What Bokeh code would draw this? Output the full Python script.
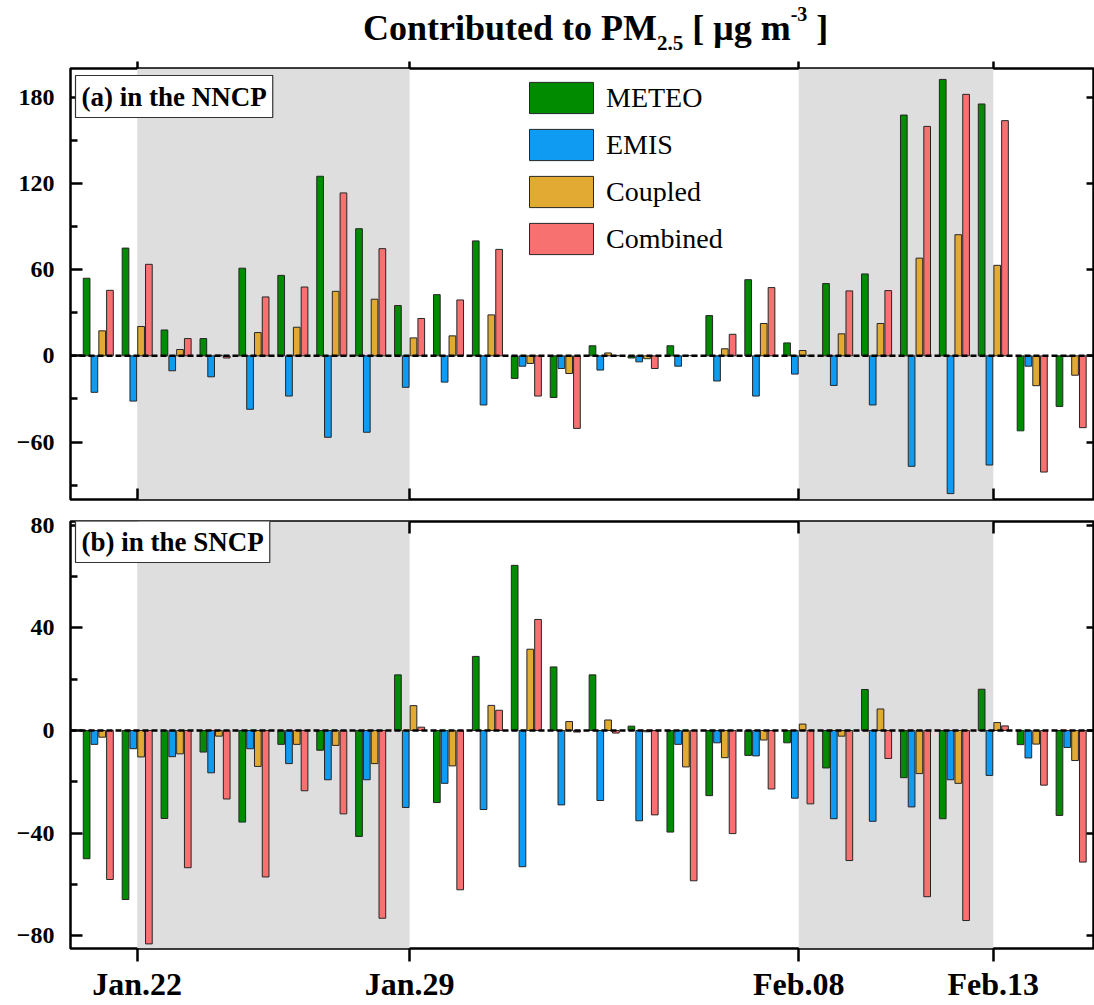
from bokeh.plotting import figure
from bokeh.models import (Range1d, FixedTicker, LinearAxis, BoxAnnotation, Span,
                          Legend, LegendItem, Label, ColumnDataSource, Div)
from bokeh.layouts import column
from bokeh.transform import dodge
from bokeh.embed import file_html
from bokeh.resources import INLINE

# ---------------- data ----------------
# day index 0 = Jan.21 ... 25 = Feb.15
days = list(range(26))
tick_positions = [1, 8, 18, 23]
tick_labels = ["Jan.22", "Jan.29", "Feb.08", "Feb.13"]
shaded_periods = [(1, 8), (18, 23)]
series_names = ["METEO", "EMIS", "Coupled", "Combined"]

nncp_meteo = [54, 75, 18, 12, 61, 56, 125, 88.5, 35, 42.6, 80, -15.7, -29, 7, -1.5, 7,
              28, 53, 9, 50.3, 57, 167.6, 192.4, 175.3, -52.2, -35.2]
nncp_emis = [-25.4, -31.5, -10.4, -14.6, -37.2, -28, -56.7, -53.2, -21.9, -18.3, -34.2, -7.2,
             -8.8, -9.9, -4.2, -7.2, -17.5, -28, -12.7, -20.6, -34.2, -76.9, -95.9, -76, -7.2, -0.5]
nncp_coupled = [17.4, 20.4, 4.4, 0.5, 16.2, 19.9, 44.9, 39.4, 12.5, 13.9, 28.5, -5.3, -12.3, 2,
                -2, 0.3, 4.9, 22.5, 3.7, 15.3, 22.5, 68, 84.3, 63, -20.8, -13.5]
nncp_combined = [45.6, 63.7, 12, -1.5, 41, 47.9, 113.4, 74.6, 26, 38.9, 74.1, -28, -50.5, 0.3,
                 -8.8, 0.3, 15, 47.5, 0.3, 45.2, 45.4, 159.7, 182, 163.7, -80.9, -50]

sncp_meteo = [-50, -65.9, -34.3, -8.4, -35.7, -5.4, -7.7, -41.3, 21.7, -28.1, 28.9, 64.4, 24.8,
              21.7, 1.7, -39.6, -25.4, -9.7, -4.8, -14.6, 16, -18.4, -34.4, 16.1, -5.5, -33.1]
sncp_emis = [-5.4, -7.1, -10.2, -16.5, -7.1, -12.9, -19.2, -19.2, -30, -20.6, -30.8, -53.1, -29,
             -27.3, -35.2, -5.4, -4.8, -9.9, -26.4, -34.4, -35.4, -29.8, -19.2, -17.5, -10.7, -6.6]
sncp_coupled = [-2.6, -10.3, -9.1, -2.2, -14, -5.4, -5.8, -12.9, 9.7, -13.8, 9.8, 31.7, 3.5, 4.1,
                -0.5, -14.2, -10.6, -3.7, 2.5, -2.2, 8.4, -16.8, -20.6, 3.1, -5.3, -11.7]
sncp_combined = [-58.1, -83.2, -53.5, -26.7, -57.1, -23.5, -32.5, -73.2, 1.3, -62.1, 7.9, 43.3,
                 -0.6, -1, -32.9, -58.6, -40.2, -22.8, -28.6, -50.7, -10.9, -64.8, -74.1, 1.8,
                 -21.3, -51.3]

# ---------------- style ----------------
FONT = "Liberation Serif"
colors = ["#008B00", "#0F9BF2", "#E2AA33", "#F87171"]
offsets = [-0.3, -0.1, 0.1, 0.3]
BAR_W = 0.172
X_RANGE = (-0.714, 25.6)
WIDTH = 1094


def hide_labels(axis):
    axis.major_label_text_font_size = "0px"
    axis.major_label_standoff = 0


def make_panel(values, y_range, majors, minors, height, border_top, border_bottom,
               bottom_labels, top_tick_out, top_tick_in, bottom_tick_in, bottom_tick_out):
    p = figure(width=WIDTH, height=height, x_range=Range1d(*X_RANGE), y_range=Range1d(*y_range),
               output_backend="svg", toolbar_location=None,
               min_border_left=70, min_border_right=0,
               min_border_top=border_top, min_border_bottom=border_bottom)
    p.background_fill_color = "white"
    p.border_fill_color = "white"
    p.outline_line_color = "black"
    p.outline_line_width = 2.5
    p.xgrid.visible = False
    p.ygrid.visible = False

    for a, b in shaded_periods:
        p.add_layout(BoxAnnotation(left=a, right=b, fill_color="#DEDEDE", fill_alpha=1.0,
                                   line_color=None, level="underlay"))

    src = ColumnDataSource(dict(day=days, **{n: v for n, v in zip(series_names, values)}))
    renderers = []
    for n, c, off in zip(series_names, colors, offsets):
        r = p.vbar(x=dodge("day", off, range=p.x_range), top=n, bottom=0, width=BAR_W,
                   source=src, fill_color=c, line_color="#262626", line_width=1)
        renderers.append(r)

    p.add_layout(Span(location=0, dimension="width", line_color="black",
                      line_width=2.5, line_dash="6 3"))

    # bottom x axis
    xa = p.xaxis[0]
    xa.ticker = FixedTicker(ticks=tick_positions)
    xa.major_label_overrides = {t: l for t, l in zip(tick_positions, tick_labels)}
    xa.axis_line_color = None
    xa.major_tick_line_width = 2.5
    xa.major_tick_in = bottom_tick_in
    xa.major_tick_out = bottom_tick_out
    xa.minor_tick_line_color = None
    if bottom_labels:
        xa.major_label_text_font = FONT
        xa.major_label_text_font_style = "bold"
        xa.major_label_text_font_size = "32px"
        xa.major_label_text_color = "black"
        xa.major_label_standoff = 4
    else:
        hide_labels(xa)

    # top x axis
    ta = LinearAxis(ticker=FixedTicker(ticks=tick_positions), axis_line_color=None,
                    major_tick_in=top_tick_in, major_tick_out=top_tick_out,
                    major_tick_line_width=2.5, minor_tick_line_color=None)
    hide_labels(ta)
    p.add_layout(ta, "above")

    # left y axis
    ya = p.yaxis[0]
    ya.ticker = FixedTicker(ticks=majors, minor_ticks=minors)
    ya.axis_line_color = None
    ya.major_tick_in = 12
    ya.major_tick_out = 0
    ya.minor_tick_in = 7
    ya.minor_tick_out = 0
    ya.major_tick_line_width = 2.5
    ya.minor_tick_line_width = 2.5
    ya.major_label_text_font = FONT
    ya.major_label_text_font_style = "bold"
    ya.major_label_text_font_size = "24px"
    ya.major_label_text_color = "black"
    ya.major_label_standoff = 16

    # right y axis
    ra = LinearAxis(ticker=FixedTicker(ticks=majors), axis_line_color=None,
                    major_tick_in=8, major_tick_out=0, major_tick_line_width=2.5,
                    minor_tick_line_color=None)
    hide_labels(ra)
    p.add_layout(ra, "right")
    return p, renderers


p1, rend1 = make_panel([nncp_meteo, nncp_emis, nncp_coupled, nncp_combined], (-100, 200),
                       [-60, 0, 60, 120, 180], [-90, -30, 30, 90, 150],
                       height=453, border_top=12, border_bottom=10, bottom_labels=False,
                       top_tick_out=7, top_tick_in=0, bottom_tick_in=11, bottom_tick_out=0)
p2, rend2 = make_panel([sncp_meteo, sncp_emis, sncp_coupled, sncp_combined], (-85, 81.5),
                       [-80, -40, 0, 40, 80], [-60, -20, 20, 60],
                       height=495, border_top=12, border_bottom=53, bottom_labels=True,
                       top_tick_out=0, top_tick_in=12, bottom_tick_in=0, bottom_tick_out=13)

legend = Legend(items=[LegendItem(label=n, renderers=[r]) for n, r in zip(series_names, rend1)],
                location=(451, 241), orientation="vertical",
                glyph_width=80, glyph_height=39, spacing=8, padding=0, margin=0,
                label_standoff=5, label_text_font=FONT, label_text_font_size="28px",
                label_text_color="black", border_line_color=None, background_fill_alpha=0)
p1.add_layout(legend, "center")

for p, txt, ytop in [(p1, "(a) in the NNCP", 424), (p2, "(b) in the SNCP", 428)]:
    p.add_layout(Label(x=5, y=ytop, x_units="screen", y_units="screen", text=txt,
                       text_font=FONT, text_font_style="bold", text_font_size="27px",
                       text_color="black", text_align="left", text_baseline="top",
                       anchor="top_left", padding=6,
                       background_fill_color="white", border_line_color="#333333",
                       border_line_width=1.2))

title_html = (
    '<div style="font-family:\'Liberation Serif\';font-weight:bold;font-size:36px;'
    'line-height:36px;padding-left:363px;padding-top:10px;white-space:nowrap;color:black">'
    'Contributed to PM<span style="font-size:21px;position:relative;top:10px;line-height:0">2.5</span>'
    ' [ \u03bcg m<span style="font-size:20px;position:relative;top:-19px;line-height:0">-3</span> ]'
    '</div>'
)
title = Div(text=title_html, width=WIDTH, height=56, margin=0)

layout = column(title, p1, p2, spacing=0)
open("out.html", "w").write(file_html(layout, INLINE))
